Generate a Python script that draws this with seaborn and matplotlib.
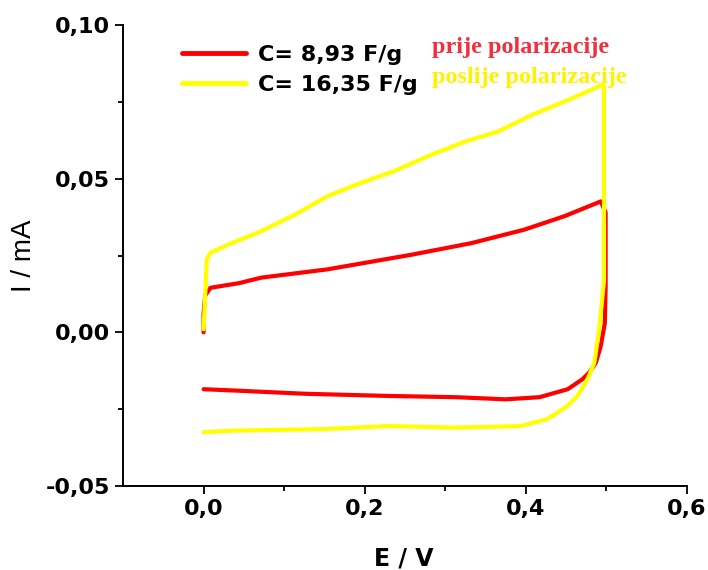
import numpy as np
import pandas as pd
import matplotlib
matplotlib.use('Agg')
import matplotlib.pyplot as plt
from matplotlib.ticker import FixedLocator
import seaborn as sns

# krivulja prije polarizacije (crvena): naprijed pa nazad
e_prije = [0.0, 0.0, 0.002, 0.0086, 0.044, 0.0716, 0.154, 0.259, 0.332, 0.398, 0.448, 0.493,
           0.499, 0.499, 0.498, 0.493, 0.487, 0.479, 0.470, 0.452, 0.417, 0.375, 0.313, 0.23, 0.127,
           0.044, 0.0]
i_prije = [0.0, 0.006, 0.012, 0.0145, 0.016, 0.0178, 0.0205, 0.0253, 0.029, 0.0334, 0.0378, 0.0426,
           0.039, 0.015, 0.003, -0.0044, -0.0098, -0.013, -0.0153, -0.0185, -0.0211, -0.0218,
           -0.0211, -0.0207, -0.020, -0.019, -0.0185]

# krivulja poslije polarizacije (zuta)
e_poslije = [0.0, 0.002, 0.004, 0.0086, 0.031, 0.0716, 0.1135, 0.154, 0.195, 0.236, 0.283, 0.325,
             0.366, 0.408, 0.448, 0.495,
             0.497, 0.497, 0.491, 0.485, 0.4765, 0.464, 0.452, 0.427, 0.394, 0.312, 0.23, 0.147,
             0.035, 0.0]
i_poslije = [0.001, 0.012, 0.0237, 0.0259, 0.0286, 0.0329, 0.0383, 0.0443, 0.0486, 0.0524, 0.0578,
             0.0621, 0.0654, 0.0708, 0.0751, 0.0805,
             0.080, 0.017, 0.001, -0.0098, -0.0153, -0.0207, -0.0239, -0.0282, -0.0305, -0.031,
             -0.0305, -0.0315, -0.032, -0.0325]

serije = ['C= 8,93 F/g', 'C= 16,35 F/g']
boje = ['#ff0000', '#ffff00']
x_ticks = [0.0, 0.2, 0.4, 0.6]
x_labels = ['0,0', '0,2', '0,4', '0,6']
y_ticks = [-0.05, 0.0, 0.05, 0.10]
y_labels = ['-0,05', '0,00', '0,05', '0,10']

df = pd.concat([
    pd.DataFrame({'E': e_prije, 'I': i_prije, 'serija': serije[0]}),
    pd.DataFrame({'E': e_poslije, 'I': i_poslije, 'serija': serije[1]}),
])

sns.set_style('ticks')
plt.rcParams['font.family'] = ['DejaVu Sans']
plt.rcParams['text.color'] = 'black'
plt.rcParams['axes.labelcolor'] = 'black'
plt.rcParams['xtick.color'] = 'black'
plt.rcParams['ytick.color'] = 'black'

fig = plt.figure(figsize=(7.08, 5.7), dpi=100)
ax = fig.add_axes([123 / 708, 1 - 486 / 570, 564 / 708, 461 / 570])

for s, boja in zip(serije, boje):
    sns.lineplot(data=df[df['serija'] == s], x='E', y='I', color=boja, sort=False,
                 estimator=None, linewidth=3, ax=ax, label=s)

ax.set_xlim(-0.1, 0.6)
ax.set_ylim(-0.05, 0.10)
ax.xaxis.set_major_locator(FixedLocator(x_ticks))
ax.xaxis.set_minor_locator(FixedLocator([0.1, 0.3, 0.5]))
ax.yaxis.set_major_locator(FixedLocator(y_ticks))
ax.yaxis.set_minor_locator(FixedLocator([-0.025, 0.025, 0.075]))
ax.set_xticklabels(x_labels, fontsize=16, fontweight='bold')
ax.set_yticklabels(y_labels, fontsize=16, fontweight='bold')
ax.tick_params(which='major', direction='out', length=6, width=1.3, color='black', pad=3.5)
ax.tick_params(which='minor', direction='out', length=3.5, width=1.3, color='black')
for sp in ['left', 'bottom']:
    ax.spines[sp].set_linewidth(1.4)
    ax.spines[sp].set_color('black')
sns.despine(ax=ax)

ax.set_xlabel('E / V', fontsize=17, fontweight='bold', va='center')
ax.xaxis.set_label_coords(0.498, -(559 - 486) / 461)
ax.set_ylabel('I / mA', fontsize=20, family='Liberation Sans', va='center')
ax.yaxis.set_label_coords((24 - 123) / 564, 0.5)

leg = ax.legend(loc='upper left', bbox_to_anchor=(182 / 708, 1 - 45 / 570),
                bbox_transform=fig.transFigure, frameon=False, borderpad=0,
                borderaxespad=0, handlelength=2.9, handletextpad=0.5, labelspacing=0.45,
                prop={'size': 16, 'weight': 'bold'})
for ln in leg.get_lines():
    ln.set_linewidth(3.5)

fig.text(432 / 708, 1 - 48 / 570, 'prije polarizacije', color='#f0303c', fontsize=17.5,
         fontweight='bold', family='Liberation Serif', va='center', ha='left')
fig.text(432 / 708, 1 - 77 / 570, 'poslije polarizacije', color='#fff200', fontsize=17.5,
         fontweight='bold', family='Liberation Serif', va='center', ha='left')

fig.savefig('out.png', dpi=100)
